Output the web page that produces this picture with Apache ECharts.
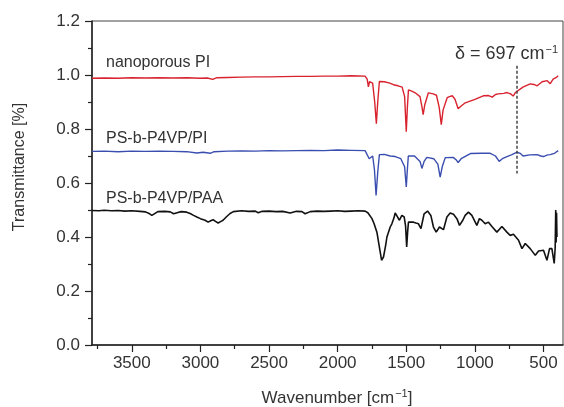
<!DOCTYPE html>
<html>
<head>
<meta charset="utf-8">
<script src="https://cdn.jsdelivr.net/npm/echarts@6/dist/echarts.min.js"></script>
<style>
  html, body { margin: 0; padding: 0; background: #fff; }
  #chart { width: 564px; height: 407px; }
</style>
</head>
<body>
<div id="chart"></div>
<script>
// FTIR spectra: [wavenumber (cm^-1), transmittance]
const nanoporousPI = [
  [3790,0.988],[3700,0.989],[3600,0.988],[3500,0.990],[3400,0.989],[3300,0.990],[3200,0.989],
  [3100,0.990],[3000,0.988],[2950,0.989],[2910,0.984],[2880,0.990],[2800,0.991],[2700,0.992],
  [2600,0.993],[2500,0.993],[2400,0.994],[2300,0.995],[2200,0.995],[2100,0.996],[2000,0.996],
  [1900,0.997],[1800,0.996],[1785,0.985],[1776,0.956],[1768,0.975],[1745,0.970],[1730,0.900],
  [1718,0.820],[1708,0.900],[1696,0.976],[1660,0.975],[1620,0.970],[1594,0.964],[1560,0.960],
  [1530,0.955],[1512,0.920],[1500,0.790],[1492,0.880],[1484,0.945],[1460,0.940],[1435,0.934],
  [1400,0.920],[1385,0.880],[1377,0.853],[1365,0.890],[1339,0.934],[1304,0.930],[1280,0.925],
  [1260,0.880],[1245,0.816],[1232,0.870],[1202,0.916],[1185,0.920],[1165,0.923],[1145,0.910],
  [1122,0.875],[1100,0.885],[1070,0.897],[1000,0.910],[939,0.923],[900,0.924],[874,0.918],
  [850,0.928],[829,0.930],[790,0.932],[766,0.935],[740,0.930],[721,0.922],[705,0.935],
  [693,0.942],[650,0.955],[597,0.967],[570,0.965],[546,0.960],[510,0.975],[473,0.979],
  [460,0.975],[451,0.968],[430,0.985],[410,0.990],[393,0.997]
];

const psP4vpPI = [
  [3790,0.717],[3700,0.718],[3600,0.716],[3500,0.718],[3400,0.717],[3300,0.718],[3200,0.717],
  [3100,0.716],[3026,0.711],[2980,0.714],[2929,0.710],[2900,0.716],[2800,0.718],[2700,0.719],
  [2600,0.718],[2500,0.720],[2400,0.719],[2300,0.720],[2200,0.721],[2100,0.720],[2000,0.722],
  [1900,0.721],[1800,0.720],[1788,0.716],[1770,0.690],[1759,0.683],[1745,0.700],[1732,0.650],
  [1720,0.554],[1708,0.640],[1696,0.705],[1660,0.706],[1617,0.700],[1580,0.698],[1540,0.690],
  [1512,0.660],[1500,0.585],[1492,0.650],[1485,0.700],[1440,0.700],[1400,0.680],[1386,0.654],
  [1370,0.680],[1350,0.695],[1300,0.690],[1270,0.670],[1253,0.622],[1238,0.660],[1216,0.694],
  [1158,0.695],[1135,0.685],[1122,0.676],[1100,0.690],[1033,0.709],[950,0.710],[888,0.710],
  [850,0.700],[823,0.680],[800,0.690],[766,0.698],[730,0.705],[693,0.714],[670,0.710],
  [649,0.700],[600,0.704],[547,0.705],[520,0.700],[500,0.698],[470,0.704],[451,0.705],
  [420,0.710],[393,0.720]
];

const psP4vpPAA = [
  [3790,0.498],[3740,0.497],[3700,0.499],[3650,0.497],[3600,0.498],[3550,0.496],[3500,0.497],
  [3440,0.495],[3400,0.493],[3370,0.486],[3354,0.480],[3340,0.487],[3310,0.494],[3260,0.495],
  [3220,0.493],[3195,0.486],[3184,0.484],[3170,0.490],[3140,0.494],[3100,0.492],[3075,0.487],
  [3050,0.480],[3026,0.474],[3000,0.468],[2966,0.462],[2944,0.455],[2925,0.460],[2907,0.464],
  [2890,0.458],[2871,0.452],[2850,0.458],[2835,0.462],[2810,0.475],[2784,0.487],[2760,0.494],
  [2747,0.497],[2700,0.497],[2650,0.495],[2600,0.496],[2579,0.490],[2550,0.495],[2500,0.496],
  [2450,0.494],[2400,0.495],[2346,0.489],[2300,0.495],[2260,0.494],[2237,0.486],[2200,0.494],
  [2150,0.496],[2100,0.495],[2050,0.496],[2000,0.497],[1950,0.495],[1900,0.496],[1850,0.497],
  [1800,0.496],[1780,0.490],[1751,0.469],[1735,0.450],[1714,0.418],[1695,0.360],[1680,0.314],
  [1666,0.326],[1650,0.370],[1641,0.400],[1617,0.437],[1605,0.449],[1590,0.470],[1581,0.489],
  [1569,0.484],[1550,0.462],[1532,0.480],[1515,0.474],[1505,0.440],[1497,0.363],[1490,0.420],
  [1484,0.455],[1447,0.455],[1430,0.452],[1411,0.449],[1393,0.431],[1370,0.486],[1345,0.496],
  [1321,0.480],[1302,0.437],[1282,0.418],[1258,0.437],[1229,0.427],[1204,0.474],[1180,0.489],
  [1156,0.484],[1131,0.468],[1112,0.443],[1088,0.462],[1071,0.480],[1047,0.492],[1022,0.480],
  [986,0.443],[967,0.468],[949,0.462],[925,0.449],[901,0.455],[876,0.439],[840,0.418],
  [803,0.439],[767,0.418],[743,0.406],[719,0.410],[682,0.388],[657,0.357],[633,0.376],
  [597,0.357],[560,0.332],[536,0.348],[500,0.351],[475,0.314],[456,0.357],[439,0.357],
  [422,0.302],[415,0.360],[411,0.500],[408,0.380],[405,0.490],[402,0.400]
];

const xMajorTicks = [3500, 3000, 2500, 2000, 1500, 1000, 500];
const xMinorTicks = [3750, 3250, 2750, 2250, 1750, 1250, 750];
const deltaBand = 697;
const deltaRange = [0.635, 1.034];

const FONT = '"Liberation Sans", Arial, Helvetica, sans-serif';
const TEXT = '#333';

const chart = echarts.init(document.getElementById('chart'), null, { renderer: 'canvas' });

const xBase = { type: 'value', min: 358, max: 3790, inverse: true, splitLine: { show: false } };

chart.setOption({
  animation: false,
  backgroundColor: '#fff',
  grid: { left: 92, right: 1, top: 21, bottom: 62, show: true, borderColor: '#444', borderWidth: 1 },
  xAxis: [
    Object.assign({}, xBase, {
      axisLine: { lineStyle: { color: '#222', width: 1.5 } },
      axisTick: { show: true, length: 7, customValues: xMajorTicks, lineStyle: { color: '#222', width: 1.2 } },
      axisLabel: {
        customValues: xMajorTicks, color: TEXT, fontSize: 17, fontFamily: FONT, margin: 10,
        formatter: v => String(v)
      }
    }),
    Object.assign({}, xBase, {
      position: 'bottom',
      axisLine: { show: false },
      axisTick: { show: true, length: 4, customValues: xMinorTicks, lineStyle: { color: '#222', width: 1.2 } },
      axisLabel: { show: false }
    })
  ],
  yAxis: {
    type: 'value', min: 0, max: 1.2, interval: 0.2,
    splitLine: { show: false },
    axisLine: { show: true, lineStyle: { color: '#222', width: 1.5 } },
    axisTick: { show: true, length: 7, lineStyle: { color: '#222', width: 1.2 } },
    minorTick: { show: true, splitNumber: 2, length: 4, lineStyle: { color: '#222', width: 1.2 } },
    axisLabel: { color: TEXT, fontSize: 17, fontFamily: FONT, margin: 12, formatter: v => v.toFixed(1) }
  },
  series: [
    {
      name: 'nanoporous PI', type: 'line', data: nanoporousPI, showSymbol: false,
      lineStyle: { color: '#d8232e', width: 1.4 },
      markLine: {
        silent: true, symbol: 'none', label: { show: false },
        lineStyle: { color: '#444', width: 1.5, type: [3, 2] },
        data: [[{ coord: [deltaBand, deltaRange[1]] }, { coord: [deltaBand, deltaRange[0]] }]]
      }
    },
    {
      name: 'PS-b-P4VP/PI', type: 'line', data: psP4vpPI, showSymbol: false,
      lineStyle: { color: '#3a4eb0', width: 1.4 }
    },
    {
      name: 'PS-b-P4VP/PAA', type: 'line', data: psP4vpPAA, showSymbol: false,
      lineStyle: { color: '#111', width: 1.6 }
    }
  ],
  graphic: [
    { type: 'text', x: 106, y: 63, style: { text: 'nanoporous PI', fill: TEXT, font: '16px ' + FONT, textVerticalAlign: 'middle' } },
    { type: 'text', x: 106, y: 139, style: { text: 'PS-b-P4VP/PI', fill: TEXT, font: '16px ' + FONT, textVerticalAlign: 'middle' } },
    { type: 'text', x: 106, y: 199, style: { text: 'PS-b-P4VP/PAA', fill: TEXT, font: '16px ' + FONT, textVerticalAlign: 'middle' } },
    {
      type: 'text', x: 558, y: 54,
      style: {
        text: '{a|δ = 697 cm}{s|−1}', align: 'right', verticalAlign: 'middle',
        rich: {
          a: { fontSize: 18, fontFamily: FONT, fill: TEXT },
          s: { fontSize: 11, fontFamily: FONT, fill: TEXT, padding: [0, 0, 9, 1] }
        }
      }
    },
    {
      type: 'text', x: 337, y: 398,
      style: {
        text: '{a|Wavenumber [cm}{s|−1}{a|]}', align: 'center', verticalAlign: 'middle',
        rich: {
          a: { fontSize: 17, fontFamily: FONT, fill: TEXT },
          s: { fontSize: 11, fontFamily: FONT, fill: TEXT, padding: [0, 0, 9, 1] }
        }
      }
    },
    {
      type: 'text', x: 20, y: 167, rotation: Math.PI / 2,
      style: { text: 'Transmittance [%]', fill: TEXT, font: '16px ' + FONT, align: 'center', verticalAlign: 'middle' }
    }
  ]
});
</script>
</body>
</html>
